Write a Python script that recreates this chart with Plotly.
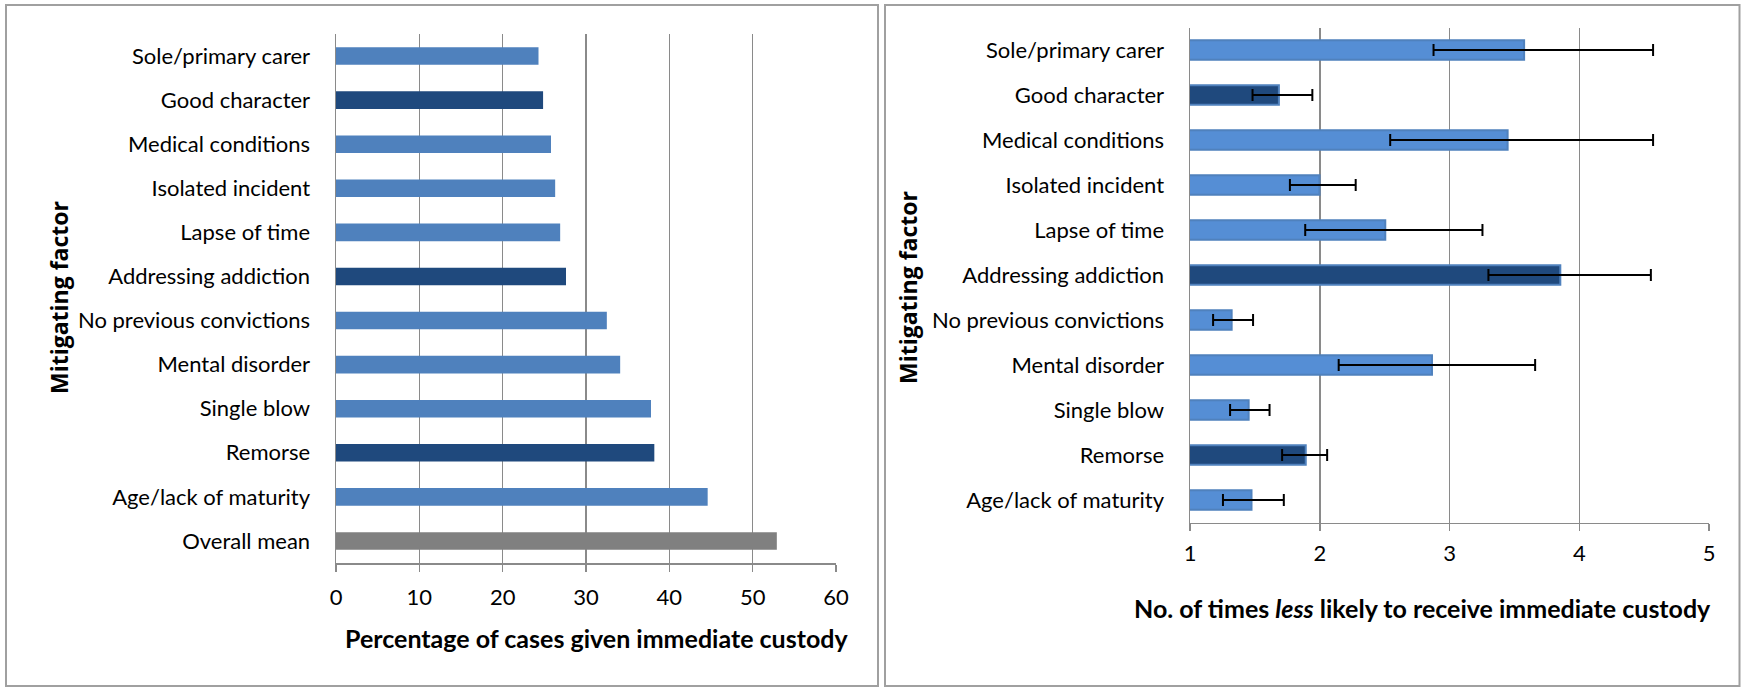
import plotly.graph_objects as go

# ---------------- data ----------------
factors_left = ["Sole/primary carer", "Good character", "Medical conditions",
                "Isolated incident", "Lapse of time", "Addressing addiction",
                "No previous convictions", "Mental disorder", "Single blow",
                "Remorse", "Age/lack of maturity", "Overall mean"]
pct_immediate_custody = [24.3, 24.85, 25.8, 26.3, 26.9, 27.6,
                         32.5, 34.1, 37.8, 38.2, 44.6, 52.9]

factors_right = ["Sole/primary carer", "Good character", "Medical conditions",
                 "Isolated incident", "Lapse of time", "Addressing addiction",
                 "No previous convictions", "Mental disorder", "Single blow",
                 "Remorse", "Age/lack of maturity"]
times_less_likely = [3.575, 1.685, 3.448, 1.998, 2.505, 3.854,
                     1.321, 2.865, 1.452, 1.892, 1.474]
ci_low = [2.877, 1.482, 2.543, 1.770, 1.888, 3.300,
          1.178, 2.146, 1.309, 1.710, 1.254]
ci_high = [4.569, 1.943, 4.569, 2.277, 3.254, 4.552,
           1.486, 3.660, 1.613, 2.057, 1.723]

highlighted = ["Good character", "Addressing addiction", "Remorse"]
overall_label = "Overall mean"

left_ticks = [0, 10, 20, 30, 40, 50, 60]
right_ticks = [1, 2, 3, 4, 5]

# ---------------- styles ----------------
W, H = 1741, 688
FONT = "Lato"
GRID = "#8A8A8A"
LIGHT_L = "#4F81BD"
LIGHT_R = "#558ED5"
DARK = "#1F497D"
GREY = "#808080"


def px(x):
    return x / W


def py(y):
    return 1 - y / H


left_colors = [GREY if f == overall_label else (DARK if f in highlighted else LIGHT_L)
               for f in factors_left]
right_colors = [DARK if f in highlighted else LIGHT_R for f in factors_right]

err_plus = [h - v for h, v in zip(ci_high, times_less_likely)]
err_minus = [v - l for v, l in zip(times_less_likely, ci_low)]

fig = go.Figure()

fig.add_trace(go.Bar(
    x=pct_immediate_custody, y=factors_left, orientation="h",
    marker=dict(color=left_colors, line=dict(width=0)),
    width=0.4, xaxis="x", yaxis="y", showlegend=False,
))

fig.add_trace(go.Bar(
    x=times_less_likely, y=factors_right, orientation="h",
    marker=dict(color=right_colors, line=dict(color=LIGHT_L, width=2)),
    width=0.43, xaxis="x2", yaxis="y2", showlegend=False,
    error_x=dict(type="data", symmetric=False, array=err_plus, arrayminus=err_minus,
                 color="black", thickness=2, width=6),
))

tickfont = dict(family=FONT, size=22, color="black")

common_x = dict(showgrid=True, gridcolor=GRID, gridwidth=1.5, zeroline=False,
                showline=True, linecolor=GRID, linewidth=1.5,
                ticks="outside", ticklen=7, tickcolor=GRID, tickwidth=1.5,
                tickfont=tickfont, fixedrange=True, automargin=False)
common_y = dict(type="category", autorange="reversed", showgrid=False, zeroline=False,
                showline=True, linecolor=GRID, linewidth=1.5,
                ticks="outside", ticklen=20, tickcolor="rgba(0,0,0,0)",
                tickfont=tickfont, fixedrange=True, automargin=False)

fig.update_layout(
    width=W, height=H,
    margin=dict(l=0, r=0, t=0, b=0, autoexpand=False),
    paper_bgcolor="white", plot_bgcolor="white",
    bargap=0.6,
    xaxis=dict(domain=[px(336), px(836)], anchor="y", range=[0, 60],
               tickvals=left_ticks, ticklabelstandoff=7, **common_x),
    yaxis=dict(domain=[py(563), py(34)], anchor="x",
               categoryorder="array", categoryarray=factors_left, **common_y),
    xaxis2=dict(domain=[px(1190), px(1709)], anchor="y2", range=[1, 5],
                tickvals=right_ticks, ticklabelstandoff=4, **common_x),
    yaxis2=dict(domain=[py(522.5), py(27.5)], anchor="x2",
                categoryorder="array", categoryarray=factors_right, **common_y),
    shapes=[
        dict(type="rect", xref="paper", yref="paper",
             x0=px(6), x1=px(878), y0=py(686), y1=py(5),
             line=dict(color="#A0A0A0", width=2)),
        dict(type="rect", xref="paper", yref="paper",
             x0=px(885), x1=px(1739.5), y0=py(686), y1=py(5),
             line=dict(color="#A0A0A0", width=2)),
    ],
    annotations=[
        dict(text="<b>Percentage of cases given immediate custody</b>",
             xref="paper", yref="paper", x=px(596), y=py(638),
             xanchor="center", yanchor="middle", showarrow=False,
             font=dict(family=FONT, size=25, color="black")),
        dict(text="<b>No. of times <i>less</i> likely to receive immediate custody</b>",
             xref="paper", yref="paper", x=px(1422), y=py(608),
             xanchor="center", yanchor="middle", showarrow=False,
             font=dict(family=FONT, size=25, color="black")),
        dict(text="<b>Mitigating factor</b>", textangle=-90,
             xref="paper", yref="paper", x=px(59), y=py(297),
             xanchor="center", yanchor="middle", showarrow=False,
             font=dict(family="Open Sans", size=23, color="black")),
        dict(text="<b>Mitigating factor</b>", textangle=-90,
             xref="paper", yref="paper", x=px(908), y=py(288),
             xanchor="center", yanchor="middle", showarrow=False,
             font=dict(family="Open Sans", size=23, color="black")),
    ],
)

fig.write_html(
    "out.html",
    config={"displayModeBar": False, "staticPlot": True},
    post_script="document.body.style.margin='0';document.body.style.overflow='hidden';",
)
